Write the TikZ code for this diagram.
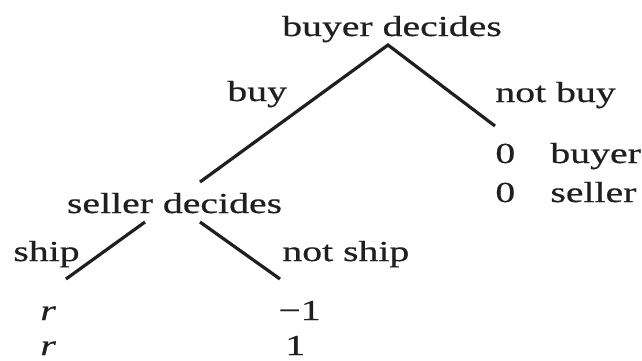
\documentclass[tikz,border=0pt]{standalone}
\usepackage{fontspec}
\setmainfont{Liberation Serif}[FakeStretch=1.37,FakeBold=0.6]
\begin{document}
\begin{tikzpicture}[x=0.5pt,y=-0.5pt,
  lbl/.style={inner sep=0pt,font=\fontsize{14.5pt}{17pt}\selectfont,text=black!88},
  edge/.style={line width=1.6pt,black!88}]
\useasboundingbox (0,0) rectangle (642,360);
% decision nodes
\node[lbl,anchor=base] (bd) at (392,36) {buyer decides};
\node[lbl,anchor=base] (sd) at (174.5,213) {seller decides};
% branch labels
\node[lbl,anchor=base west] (buy) at (227,101) {buy};
\node[lbl,anchor=base west] (notbuy) at (495,102) {not buy};
\node[lbl,anchor=base west] (ship) at (13,261) {ship};
\node[lbl,anchor=base west] (notship) at (282,261) {not ship};
% payoffs
\node[lbl,anchor=base west] (z1) at (495,163) {0};
\node[lbl,anchor=base west] (pb) at (550,163) {buyer};
\node[lbl,anchor=base west] (z2) at (495,202) {0};
\node[lbl,anchor=base west] (ps) at (550,202) {seller};
\node[lbl,anchor=base west] (r1) at (40,320) {\textit{r}};
\node[lbl,anchor=base west] (r2) at (40,355) {\textit{r}};
\node[lbl,anchor=base west] (m1) at (278,320) {−1};
\node[lbl,anchor=base west] (p1) at (285,355) {1};
% connector end points
\coordinate (top) at (388,45);
\coordinate (buyend) at (200,182);
\coordinate (nbend) at (495,126);
\coordinate (sdl) at (145,222);
\coordinate (sdr) at (200,222);
\coordinate (shipend) at (66,279);
\coordinate (nsend) at (280,279);
\draw[edge] (buyend) -- (top) -- (nbend);
\draw[edge] (sdl) -- (shipend);
\draw[edge] (sdr) -- (nsend);
\end{tikzpicture}
\end{document}
